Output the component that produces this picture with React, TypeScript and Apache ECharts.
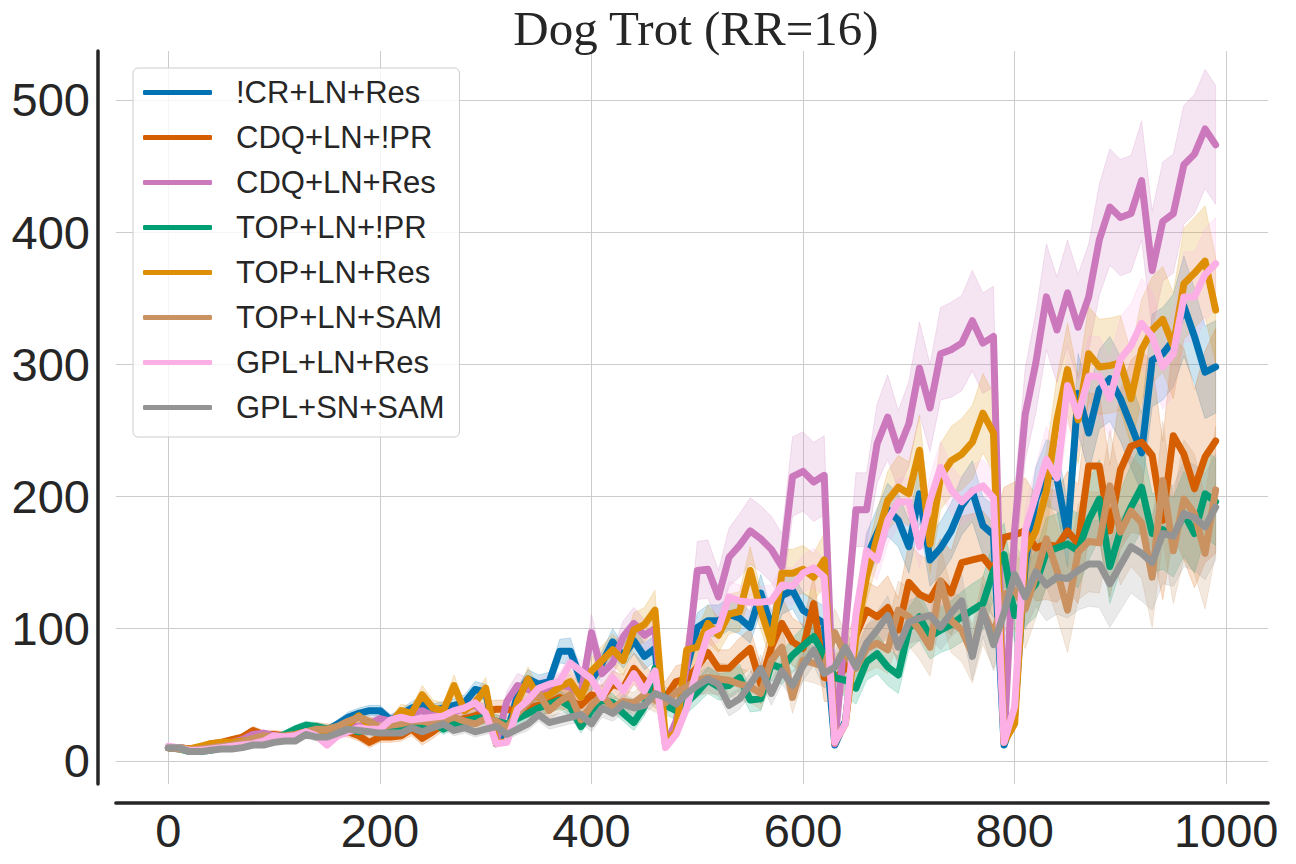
import React, { useEffect, useRef } from "react";
import * as echarts from "echarts";

const TITLE = "Dog Trot (RR=16)";
const xs: number[] = Array.from({ length: 100 }, (_, i) => i * 10);
const xTicks = [0, 200, 400, 600, 800, 1000];
const yTicks = [0, 100, 200, 300, 400, 500];

const names = [
  "!CR+LN+Res",
  "CDQ+LN+!PR",
  "CDQ+LN+Res",
  "TOP+LN+!PR",
  "TOP+LN+Res",
  "TOP+LN+SAM",
  "GPL+LN+Res",
  "GPL+SN+SAM",
];
const colors = ["#0173b2", "#d55e00", "#cc78bc", "#029e73", "#de8f05", "#ca9161", "#fbafe4", "#949494"];

const crLnRes = [
  10, 10, 9, 10, 11, 12, 13, 14, 15, 16,
  17, 18, 19, 22, 24, 23, 28, 33, 36, 38,
  38, 31, 35, 40, 43, 38, 40, 42, 44, 54,
  52, 13, 20, 50, 62, 58, 60, 83, 83, 61,
  61, 74, 90, 79, 91, 79, 85, 12, 25, 70,
  101, 106, 106, 111, 108, 101, 127, 101, 125, 129,
  114, 109, 104, 12, 30, 100, 154, 172, 190, 182,
  162, 202, 152, 161, 174, 193, 204, 178, 171, 12,
  35, 150, 198, 218, 214, 171, 278, 248, 281, 289,
  274, 254, 233, 303, 308, 318, 344, 321, 294, 298,
];
const crLnResSd = [
  1, 1, 1, 1, 1, 1, 2, 2, 2, 2,
  2, 2, 2, 3, 3, 3, 3, 4, 4, 4,
  4, 4, 4, 5, 5, 5, 5, 5, 6, 6,
  6, 2, 3, 6, 7, 7, 7, 9, 10, 8,
  8, 9, 10, 9, 10, 10, 10, 2, 4, 9,
  11, 12, 12, 12, 12, 12, 14, 12, 14, 14,
  13, 13, 13, 2, 6, 14, 18, 19, 20, 20,
  20, 22, 20, 20, 21, 22, 23, 22, 22, 2,
  6, 20, 24, 25, 25, 24, 30, 30, 30, 32,
  32, 32, 30, 35, 35, 35, 38, 36, 35, 35,
];

const cdqLnNoPr = [
  10, 10, 9, 10, 13, 14, 16, 18, 23, 20,
  20, 19, 22, 24, 25, 24, 23, 22, 19, 14,
  18, 18, 19, 24, 17, 22, 28, 30, 32, 34,
  38, 39, 39, 38, 40, 42, 44, 48, 45, 42,
  50, 48, 58, 55, 70, 61, 52, 48, 60, 62,
  71, 82, 70, 70, 78, 85, 58, 86, 104, 90,
  85, 119, 63, 62, 70, 95, 114, 109, 116, 99,
  135, 126, 122, 136, 127, 150, 152, 154, 144, 169,
  171, 174, 161, 164, 162, 174, 164, 223, 223, 174,
  220, 238, 241, 231, 182, 246, 232, 206, 230, 242,
];
const cdqLnNoPrSd = [
  1, 1, 1, 1, 2, 2, 2, 2, 3, 3,
  3, 3, 3, 3, 4, 4, 4, 4, 4, 4,
  4, 4, 4, 5, 5, 5, 5, 6, 6, 6,
  7, 7, 7, 7, 7, 8, 8, 8, 8, 8,
  9, 9, 10, 10, 12, 12, 12, 12, 12, 12,
  14, 14, 14, 14, 15, 15, 15, 17, 20, 18,
  18, 22, 18, 18, 18, 20, 22, 22, 24, 24,
  30, 30, 30, 32, 32, 35, 35, 35, 35, 38,
  40, 40, 40, 42, 42, 45, 45, 55, 55, 50,
  60, 65, 70, 70, 60, 75, 80, 75, 80, 85,
];

const cdqLnRes = [
  10, 10, 9, 10, 11, 13, 14, 16, 20, 21,
  19, 18, 20, 25, 24, 22, 20, 27, 26, 28,
  32, 30, 33, 36, 38, 34, 36, 37, 40, 42,
  36, 14, 45, 57, 54, 50, 53, 57, 56, 50,
  97, 66, 74, 94, 104, 95, 100, 12, 30, 72,
  144, 145, 124, 154, 163, 174, 168, 160, 147, 215,
  219, 211, 216, 13, 100, 190, 190, 240, 260, 235,
  255, 297, 267, 308, 311, 316, 333, 316, 321, 14,
  175, 262, 301, 351, 326, 354, 328, 351, 394, 419,
  411, 414, 439, 371, 408, 414, 451, 459, 478, 466,
];
const cdqLnResSd = [
  1, 1, 1, 1, 1, 2, 2, 2, 2, 2,
  2, 2, 3, 3, 3, 3, 3, 3, 4, 4,
  4, 4, 5, 5, 5, 5, 5, 5, 6, 6,
  6, 2, 8, 9, 9, 8, 8, 9, 9, 8,
  14, 10, 10, 12, 12, 12, 12, 2, 6, 12,
  22, 22, 20, 22, 24, 25, 25, 25, 25, 30,
  30, 30, 30, 2, 20, 28, 28, 30, 32, 30,
  32, 35, 33, 35, 36, 36, 38, 38, 38, 2,
  30, 35, 38, 40, 40, 40, 40, 40, 42, 44,
  44, 44, 45, 45, 45, 45, 45, 45, 45, 45,
];

const topLnNoPr = [
  10, 9, 7, 7, 8, 10, 11, 13, 16, 17,
  17, 20, 24, 27, 26, 24, 26, 24, 22, 25,
  22, 24, 25, 28, 26, 29, 24, 28, 30, 32,
  33, 30, 28, 32, 36, 40, 43, 46, 41, 26,
  38, 46, 44, 36, 29, 41, 70, 42, 38, 44,
  52, 61, 56, 57, 63, 46, 47, 73, 70, 80,
  87, 94, 80, 63, 61, 55, 75, 81, 71, 65,
  100, 109, 94, 99, 103, 109, 114, 119, 144, 156,
  110, 124, 134, 158, 161, 164, 159, 182, 198, 147,
  174, 192, 207, 172, 175, 169, 187, 172, 202, 196,
];
const topLnNoPrSd = [
  1, 1, 1, 1, 1, 1, 2, 2, 2, 2,
  2, 3, 3, 3, 3, 3, 3, 3, 3, 3,
  3, 3, 4, 4, 4, 4, 4, 4, 5, 5,
  5, 5, 5, 5, 6, 6, 6, 7, 7, 5,
  6, 7, 7, 6, 6, 7, 10, 7, 7, 8,
  9, 10, 10, 10, 10, 9, 9, 12, 12, 13,
  14, 15, 14, 12, 12, 12, 14, 15, 14, 14,
  16, 18, 17, 17, 18, 19, 20, 20, 22, 24,
  20, 22, 25, 26, 26, 28, 28, 30, 30, 28,
  30, 32, 33, 30, 30, 30, 32, 30, 33, 33,
];

const topLnRes = [
  10, 10, 9, 11, 13, 14, 14, 15, 16, 17,
  17, 18, 20, 22, 23, 22, 24, 28, 34, 27,
  25, 28, 38, 36, 50, 40, 38, 57, 38, 44,
  55, 13, 15, 45, 62, 48, 50, 56, 60, 48,
  68, 76, 84, 76, 99, 103, 114, 15, 22, 84,
  86, 104, 95, 111, 113, 144, 114, 89, 142, 142,
  145, 139, 152, 14, 28, 95, 139, 169, 197, 207,
  202, 235, 164, 215, 227, 232, 241, 263, 248, 14,
  28, 158, 174, 204, 258, 296, 258, 308, 298, 299,
  301, 274, 311, 326, 334, 314, 361, 369, 378, 341,
];
const topLnResSd = [
  1, 1, 1, 1, 2, 2, 2, 2, 2, 2,
  2, 2, 3, 3, 3, 3, 3, 4, 5, 4,
  4, 4, 5, 5, 7, 6, 6, 8, 6, 7,
  8, 2, 3, 7, 9, 7, 8, 8, 9, 8,
  10, 11, 12, 11, 13, 13, 15, 2, 4, 12,
  13, 14, 13, 15, 15, 18, 15, 14, 18, 18,
  18, 18, 20, 2, 5, 15, 18, 20, 22, 24,
  24, 26, 22, 25, 26, 27, 28, 30, 30, 2,
  5, 25, 28, 30, 32, 35, 33, 36, 36, 36,
  36, 35, 38, 40, 40, 40, 42, 42, 42, 40,
];

const topLnSam = [
  10, 9, 8, 9, 10, 11, 12, 14, 17, 19,
  18, 19, 20, 22, 24, 24, 26, 30, 33, 30,
  25, 27, 28, 30, 30, 28, 30, 33, 30, 28,
  32, 30, 25, 36, 44, 51, 38, 45, 50, 31,
  42, 50, 40, 45, 44, 50, 46, 44, 52, 56,
  61, 63, 62, 61, 58, 56, 51, 76, 86, 48,
  76, 74, 71, 97, 80, 70, 85, 89, 84, 114,
  109, 99, 86, 136, 106, 99, 81, 114, 95, 126,
  129, 115, 140, 168, 144, 114, 158, 166, 165, 208,
  173, 189, 180, 139, 212, 159, 198, 187, 157, 205,
];
const topLnSamSd = [
  1, 1, 1, 1, 1, 2, 2, 2, 2, 3,
  3, 3, 3, 3, 3, 3, 4, 4, 4, 4,
  4, 4, 4, 4, 4, 4, 4, 5, 5, 5,
  5, 5, 5, 6, 7, 8, 7, 8, 8, 6,
  7, 8, 7, 8, 8, 9, 9, 9, 10, 10,
  11, 12, 12, 12, 12, 12, 12, 15, 16, 12,
  15, 15, 15, 18, 17, 17, 18, 18, 18, 22,
  22, 22, 22, 26, 24, 24, 22, 26, 25, 28,
  30, 30, 32, 36, 35, 32, 36, 38, 38, 42,
  40, 42, 42, 38, 45, 40, 45, 45, 42, 48,
];

const gplLnRes = [
  11, 10, 8, 8, 9, 10, 11, 12, 13, 15,
  19, 18, 19, 22, 19, 12, 19, 22, 25, 24,
  24, 31, 33, 31, 32, 33, 34, 38, 40, 44,
  36, 13, 14, 39, 46, 55, 58, 60, 74, 68,
  62, 48, 63, 53, 66, 53, 68, 10, 20, 40,
  70, 96, 100, 124, 121, 120, 120, 121, 133, 132,
  142, 146, 139, 14, 28, 111, 159, 152, 182, 196,
  196, 162, 197, 222, 205, 196, 204, 208, 199, 14,
  41, 174, 201, 228, 214, 284, 261, 291, 291, 274,
  304, 314, 331, 321, 298, 308, 351, 351, 368, 376,
];
const gplLnResSd = [
  1, 1, 1, 1, 1, 1, 2, 2, 2, 2,
  2, 2, 2, 3, 3, 2, 3, 3, 3, 3,
  3, 4, 4, 4, 4, 4, 4, 5, 5, 5,
  5, 2, 2, 5, 6, 7, 7, 7, 8, 8,
  8, 7, 8, 7, 8, 7, 8, 2, 3, 6,
  8, 10, 10, 12, 12, 12, 12, 12, 14, 14,
  14, 15, 14, 2, 4, 12, 15, 15, 18, 18,
  18, 16, 18, 20, 18, 18, 20, 20, 20, 2,
  6, 18, 22, 25, 24, 28, 28, 30, 30, 30,
  32, 32, 34, 34, 32, 32, 34, 34, 35, 35,
];

const gplSnSam = [
  10, 10, 7, 7, 8, 9, 9, 10, 12, 12,
  14, 15, 15, 20, 18, 18, 21, 24, 23, 22,
  21, 21, 21, 25, 22, 25, 28, 23, 25, 22,
  24, 26, 20, 24, 28, 35, 29, 31, 33, 35,
  28, 40, 36, 43, 40, 42, 51, 48, 43, 51,
  57, 62, 58, 42, 47, 58, 70, 51, 68, 57,
  72, 84, 66, 71, 86, 71, 89, 99, 110, 86,
  105, 108, 110, 101, 112, 121, 79, 114, 88, 112,
  141, 124, 143, 133, 139, 138, 144, 149, 149, 134,
  148, 162, 157, 150, 172, 170, 187, 184, 177, 192,
];
const gplSnSamSd = [
  1, 1, 1, 1, 1, 1, 1, 2, 2, 2,
  2, 2, 2, 3, 3, 3, 3, 3, 3, 3,
  3, 3, 3, 3, 3, 3, 4, 4, 4, 4,
  4, 4, 4, 4, 5, 5, 5, 5, 5, 6,
  6, 7, 6, 7, 7, 7, 8, 8, 8, 8,
  9, 9, 9, 8, 8, 9, 10, 9, 10, 10,
  11, 12, 11, 12, 13, 12, 13, 14, 15, 14,
  16, 17, 17, 17, 18, 20, 18, 20, 20, 22,
  24, 25, 26, 27, 28, 30, 30, 32, 33, 33,
  34, 35, 36, 36, 38, 38, 40, 40, 40, 40,
];

const means = [crLnRes, cdqLnNoPr, cdqLnRes, topLnNoPr, topLnRes, topLnSam, gplLnRes, gplSnSam];
const spreads = [crLnResSd, cdqLnNoPrSd, cdqLnResSd, topLnNoPrSd, topLnResSd, topLnSamSd, gplLnResSd, gplSnSamSd];

const TEXT = "#262626";
const SANS = "'Liberation Sans', Arial, sans-serif";
const SERIF = "'Liberation Serif', 'Times New Roman', serif";

function bandSeries(k: number) {
  const mean = means[k];
  const sd = spreads[k];
  return {
    type: "custom",
    name: "band-" + k,
    silent: true,
    clip: true,
    z: 1,
    data: [[0, 0]],
    renderItem: (_params: any, api: any) => {
      const top = xs.map((x, i) => api.coord([x, mean[i] + sd[i]]));
      const bot = xs.map((x, i) => api.coord([x, mean[i] - sd[i]])).reverse();
      return {
        type: "polygon",
        shape: { points: top.concat(bot) },
        style: { fill: colors[k], stroke: colors[k], lineWidth: 1, opacity: 0.2 },
      };
    },
  };
}

function lineSeries(k: number) {
  return {
    type: "line",
    name: names[k],
    data: xs.map((x, i) => [x, means[k][i]]),
    showSymbol: false,
    symbol: "none",
    silent: true,
    z: 2,
    color: colors[k],
    itemStyle: { color: colors[k] },
    lineStyle: { color: colors[k], width: 7, join: "round", cap: "round" },
    emphasis: { disabled: true },
  };
}

export default function App() {
  const ref = useRef<HTMLDivElement>(null);
  useEffect(() => {
    document.body.style.margin = "0";
    if (!ref.current) return;
    const chart = echarts.init(ref.current, null, { renderer: "svg" });
    const series: any[] = [];
    for (let k = 0; k < names.length; k++) series.push(bandSeries(k));
    for (let k = 0; k < names.length; k++) series.push(lineSeries(k));
    chart.setOption({
      animation: false,
      backgroundColor: "#ffffff",
      title: {
        text: TITLE,
        left: 696,
        top: 4,
        padding: 0,
        textAlign: "center",
        textStyle: { fontFamily: SERIF, fontSize: 49, fontWeight: "normal", color: TEXT },
      },
      legend: {
        data: names,
        orient: "vertical",
        left: 133,
        top: 68,
        padding: [9, 15, 14, 10],
        itemWidth: 69,
        itemHeight: 5,
        itemGap: 14,
        icon: "roundRect",
        backgroundColor: "rgba(255,255,255,0.8)",
        borderColor: "#cccccc",
        borderWidth: 1,
        borderRadius: 5,
        selectedMode: false,
        textStyle: { fontFamily: SANS, fontSize: 31, color: TEXT, padding: [0, 0, 0, 19], lineHeight: 31 },
      },
      grid: { left: 116, right: 28, top: 51, bottom: 80, containLabel: false, outerBoundsMode: "none" },
      xAxis: {
        type: "value",
        min: -49.5,
        max: 1039.5,
        offset: 19,
        axisLine: { show: true, onZero: false, lineStyle: { color: TEXT, width: 3.7 } },
        axisTick: { show: false },
        axisLabel: {
          show: true,
          margin: 4,
          fontFamily: SANS,
          fontSize: 47,
          color: TEXT,
          showMinLabel: false,
          showMaxLabel: false,
          formatter: (v: number) => (xTicks.includes(v) ? String(v) : ""),
        },
        splitLine: { show: true, showMinLine: false, showMaxLine: false, lineStyle: { color: "#cccccc", width: 1 } },
      },
      yAxis: {
        type: "value",
        min: -17.5,
        max: 537,
        offset: 18,
        axisLine: { show: true, onZero: false, lineStyle: { color: TEXT, width: 3.5 } },
        axisTick: { show: false },
        axisLabel: {
          show: true,
          margin: 8,
          fontFamily: SANS,
          fontSize: 47,
          color: TEXT,
          showMinLabel: false,
          showMaxLabel: false,
          formatter: (v: number) => (yTicks.includes(v) ? String(v) : ""),
        },
        splitLine: { show: true, showMinLine: false, showMaxLine: false, lineStyle: { color: "#cccccc", width: 1 } },
      },
      series,
    });
    return () => chart.dispose();
  }, []);
  return <div ref={ref} style={{ width: 1296, height: 864 }} />;
}
